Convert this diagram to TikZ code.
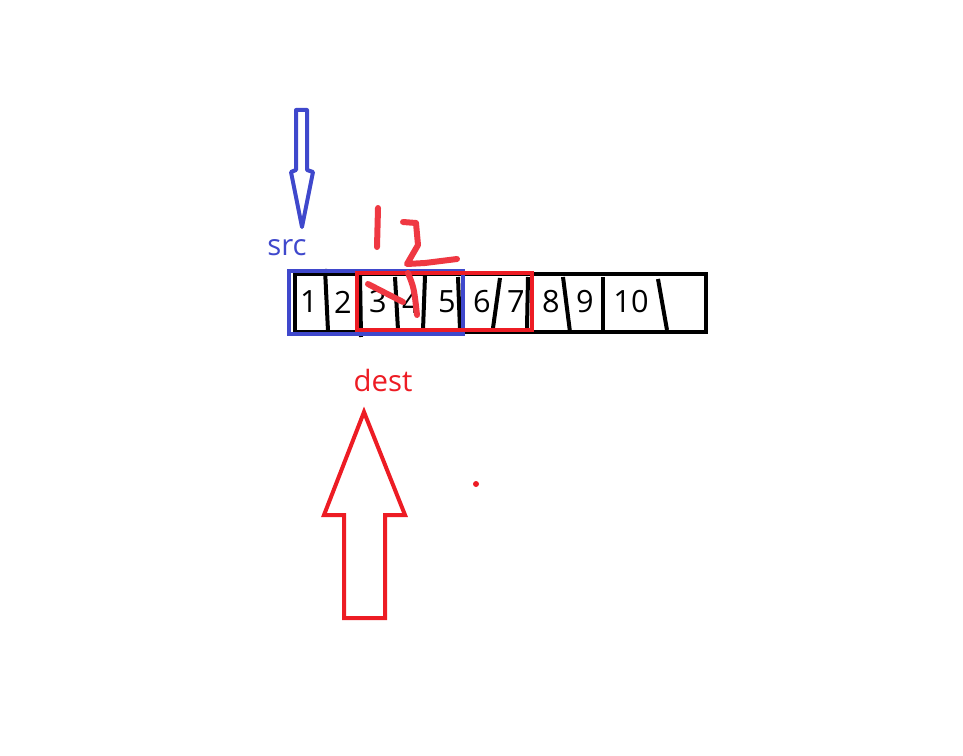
\documentclass[tikz,border=0pt]{standalone}
\usepackage{fontspec}
\setmainfont{Open Sans}
\usetikzlibrary{positioning}
\definecolor{penred}{RGB}{237,28,36}
\definecolor{penblue}{RGB}{63,72,204}
\definecolor{inkred}{RGB}{239,56,66}
\tikzstyle{cell} = [inner sep=0pt, font=\fontsize{23}{26}\selectfont]
\tikzstyle{divider} = [line width=3pt, black]
\tikzstyle{frame} = [line width=3pt]
\tikzstyle{label} = [inner sep=0pt, font=\fontsize{22}{26}\selectfont]
\tikzstyle{scribble} = [line width=4.5pt, inkred, line cap=round, line join=round]

\begin{document}
\begin{tikzpicture}[x=0.75pt, y=-0.75pt]
		\useasboundingbox (0,0) rectangle (963,756);
		% the array
		\draw [frame, black] (295,274) rectangle (706,332);
		\node (c1) [cell] at (309,302) {1};
		\node (c2) [cell] at (343,302) {2};
		\node (c3) [cell] at (378,302) {3};
		\node (c4) [cell] at (411,302) {4};
		\node (c5) [cell] at (447,302) {5};
		\node (c6) [cell] at (482,302) {6};
		\node (c7) [cell] at (516,302) {7};
		\node (c8) [cell] at (551,302) {8};
		\node (c9) [cell] at (585,302) {9};
		\node (c10) [cell] at (631,302) {10};
		\draw [divider] (325,269) -- (328,331);
		\draw [divider] (360,276) -- (361,337);
		\draw [divider] (395,277) -- (398,330);
		\draw [divider] (425,276) -- (423,330);
		\draw [divider] (458,277) -- (460,330);
		\draw [divider] (500,278) -- (493,328);
		\draw [divider] (528,277) -- (527,328);
		\draw [divider] (563,277) -- (570,332);
		\draw [divider] (603,277) -- (603,332);
		\draw [divider] (658,279) -- (667,330);
		% src and dest windows
		\draw [frame, penblue] (289,271) rectangle (463,334);
		\draw [frame, penred] (357,273) rectangle (532,330);
		% src pointer
		\node (src) [label, text=penblue] at (287,248) {src};
		\draw [frame, penblue, line join=round] (296,110) -- (307,110) -- (307,170) -- (313,172) -- (302,227) -- (291,172) -- (296,170) -- cycle;
		% dest pointer
		\node (dest) [label, text=penred] at (383,380) {dest};
		\draw [frame, penred, line join=miter] (364,412) -- (405,515) -- (385,515) -- (385,618) -- (344,618) -- (344,515) -- (324,515) -- cycle;
		% hand notes
		\draw [scribble] (378,208) -- (377,247);
		\draw [scribble] (403,222) -- (416,223) -- (418,245) -- (407,264) -- (425,263) -- (457,259);
		\draw [scribble] (408,273) .. controls (414,288) .. (417,315);
		\draw [scribble] (368,284) -- (403,302);
		\fill [penred] (476,484) circle (3);
	\end{tikzpicture}
\end{document}
